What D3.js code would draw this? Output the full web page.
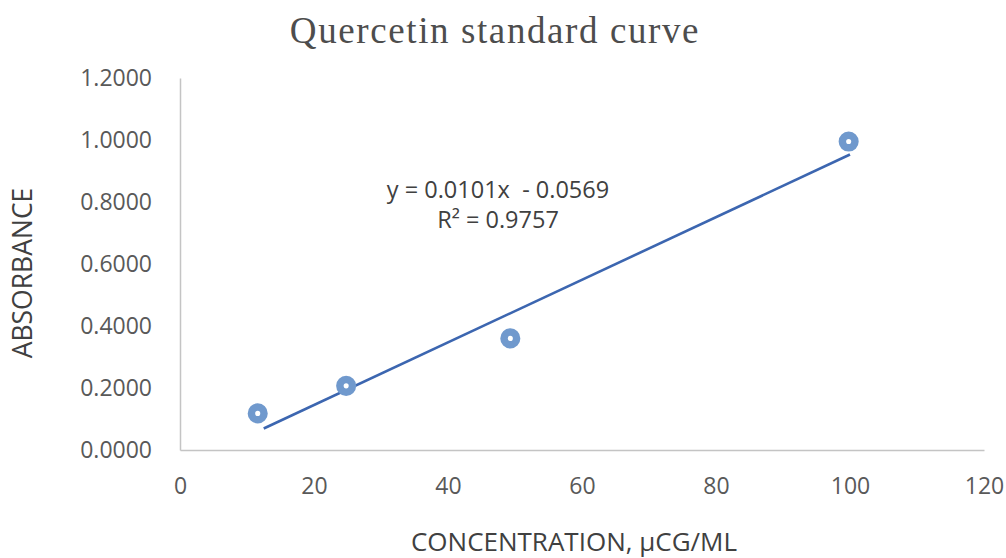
<!DOCTYPE html>
<html lang="en">
<head>
    <meta charset="UTF-8">
    <script src="https://cdn.jsdelivr.net/npm/d3@7"></script>
    <title>Quercetin standard curve</title>
    <style>
        body {
            margin: 0;
            background: #fff;
        }

        .axis text {
            font-family: 'Open Sans', sans-serif;
            font-size: 23px;
            fill: #595959;
        }

        .axis path {
            stroke: #c4c4c4;
            stroke-width: 1.5px;
        }
    </style>
</head>

<body>
    <div id="chart"></div>

    <script>
        // measured points (concentration, absorbance)
        const concentration = [11.6, 24.8, 49.3, 99.8];
        const absorbance = [0.118, 0.207, 0.360, 0.995];

        // linear trend line shown on the chart
        const slope = 0.0101;
        const intercept = -0.0569;
        const rSquared = 0.9757;
        const trendRange = [12.5, 100];

        const xTicks = [0, 20, 40, 60, 80, 100, 120];
        const yTicks = [0, 0.2, 0.4, 0.6, 0.8, 1.0, 1.2];

        const width = 1006;
        const height = 558;

        const svg = d3.select("#chart").append("svg")
            .attr("width", width)
            .attr("height", height);

        const x = d3.scaleLinear().domain([0, 120]).range([180, 984]);
        const y = d3.scaleLinear().domain([0, 1.2]).range([450, 78]);

        // title
        svg.append("text")
            .attr("x", 495)
            .attr("y", 43)
            .attr("text-anchor", "middle")
            .style("font-family", "'Liberation Serif', serif")
            .style("font-size", "37px")
            .style("letter-spacing", "1.6px")
            .style("fill", "#4d4d4d")
            .text("Quercetin standard curve");

        // axes
        svg.append("g")
            .attr("class", "axis")
            .attr("transform", `translate(0,${y(0)})`)
            .call(d3.axisBottom(x).tickValues(xTicks).tickSize(0).tickPadding(28).tickFormat(d3.format("d")));

        svg.append("g")
            .attr("class", "axis")
            .attr("transform", `translate(${x(0)},0)`)
            .call(d3.axisLeft(y).tickValues(yTicks).tickSize(0).tickPadding(28).tickFormat(d3.format(".4f")));

        // axis titles
        svg.append("text")
            .attr("transform", "translate(32,273) rotate(-90)")
            .attr("text-anchor", "middle")
            .style("font-family", "'Open Sans', sans-serif")
            .style("font-size", "26.5px")
            .style("fill", "#404040")
            .text("ABSORBANCE");

        svg.append("text")
            .attr("x", 574)
            .attr("y", 551)
            .attr("text-anchor", "middle")
            .style("font-family", "'Open Sans', sans-serif")
            .style("font-size", "26px")
            .style("fill", "#404040")
            .text("CONCENTRATION, µCG/ML");

        // trend line
        const line = d3.line()
            .x(d => x(d))
            .y(d => y(slope * d + intercept));

        svg.append("path")
            .datum(trendRange)
            .attr("d", line)
            .attr("fill", "none")
            .attr("stroke", "#3c66b0")
            .attr("stroke-width", 2.6);

        // data points
        svg.selectAll("circle.pt")
            .data(concentration)
            .enter()
            .append("circle")
            .attr("class", "pt")
            .attr("cx", d => x(d))
            .attr("cy", (d, i) => y(absorbance[i]))
            .attr("r", 6.3)
            .attr("fill", "#fff")
            .attr("stroke", "#7099cd")
            .attr("stroke-width", 7.5);

        // equation label
        const eq = svg.append("text")
            .attr("text-anchor", "middle")
            .style("font-family", "'Open Sans', sans-serif")
            .style("font-size", "23.5px")
            .style("fill", "#404040");

        eq.append("tspan")
            .attr("x", 498)
            .attr("y", 198)
            .attr("xml:space", "preserve")
            .text(`y = ${slope.toFixed(4)}x  - ${Math.abs(intercept).toFixed(4)}`);

        eq.append("tspan")
            .attr("x", 498)
            .attr("y", 228)
            .text(`R² = ${rSquared.toFixed(4)}`);
    </script>
</body>
</html>
